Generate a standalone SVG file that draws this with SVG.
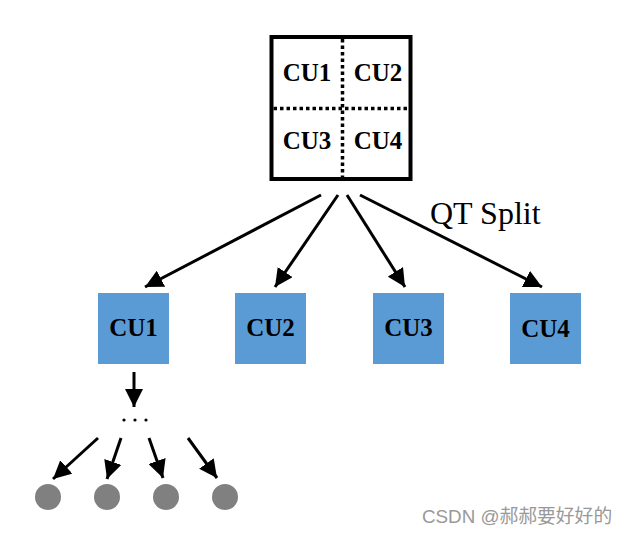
<svg xmlns="http://www.w3.org/2000/svg" width="628" height="535" viewBox="0 0 628 535">
<style>
.lbl{font-family:"Liberation Serif","Times New Roman",serif;font-weight:bold;font-size:25px;fill:#000;text-anchor:middle;dominant-baseline:central}
.blue{fill:#5B9BD5}
.leaf{fill:#808080}
.conn{stroke:#000;stroke-width:3;fill:none;marker-end:url(#ah)}
.dot{stroke:#000;stroke-width:3.5;stroke-dasharray:3.5 3;fill:none}
</style>
<defs>
<marker id="ah" markerUnits="userSpaceOnUse" markerWidth="20" markerHeight="18" refX="18" refY="9" orient="auto">
<path d="M0,0 L18,9 L0,18 z" fill="#000"/>
</marker>
</defs>
<rect width="628" height="535" fill="#fff"/>
<g id="root">
<rect x="271.5" y="37" width="139" height="142" fill="#fff" stroke="#000" stroke-width="4"/>
<line class="dot" x1="342.5" y1="39" x2="342.5" y2="177"/>
<line class="dot" x1="273.5" y1="108.5" x2="408.5" y2="108.5"/>
<text class="lbl" x="307" y="72">CU1</text>
<text class="lbl" x="378" y="72">CU2</text>
<text class="lbl" x="307" y="140">CU3</text>
<text class="lbl" x="378" y="140">CU4</text>
</g>
<g id="cu1"><rect class="blue" x="98" y="293" width="71" height="71"/><text class="lbl" x="133.5" y="327">CU1</text></g>
<g id="cu2"><rect class="blue" x="235" y="293" width="71" height="71"/><text class="lbl" x="270.5" y="327">CU2</text></g>
<g id="cu3"><rect class="blue" x="373" y="293" width="71" height="71"/><text class="lbl" x="408.5" y="327">CU3</text></g>
<g id="cu4"><rect class="blue" x="510" y="293" width="71" height="71"/><text class="lbl" x="545.5" y="328">CU4</text></g>
<g id="dots">
<circle cx="124" cy="420" r="1.6" fill="#000"/>
<circle cx="135" cy="420" r="1.6" fill="#000"/>
<circle cx="146" cy="420" r="1.6" fill="#000"/>
</g>
<g id="leaf1"><circle class="leaf" cx="48" cy="497" r="13"/></g>
<g id="leaf2"><circle class="leaf" cx="107" cy="497" r="13"/></g>
<g id="leaf3"><circle class="leaf" cx="166" cy="497" r="13"/></g>
<g id="leaf4"><circle class="leaf" cx="225" cy="497" r="13"/></g>
<g id="connectors">
<line class="conn" x1="321" y1="195" x2="145" y2="287"/>
<line class="conn" x1="338" y1="195" x2="275" y2="287"/>
<line class="conn" x1="347" y1="195" x2="405" y2="287"/>
<line class="conn" x1="360" y1="195" x2="542" y2="287"/>
<line class="conn" x1="134" y1="372" x2="134" y2="407"/>
<line class="conn" x1="98" y1="438" x2="53" y2="479"/>
<line class="conn" x1="121" y1="438" x2="107" y2="479"/>
<line class="conn" x1="149" y1="438" x2="163" y2="478"/>
<line class="conn" x1="188" y1="438" x2="217" y2="478"/>
</g>
<text x="430" y="224" font-family="Liberation Serif, Times New Roman, serif" font-size="32" fill="#000">QT Split</text>
<text x="422" y="523" font-family="Liberation Sans, Noto Sans CJK SC, sans-serif" font-size="18.8" fill="#999">CSDN @郝郝要好好的</text>
</svg>
